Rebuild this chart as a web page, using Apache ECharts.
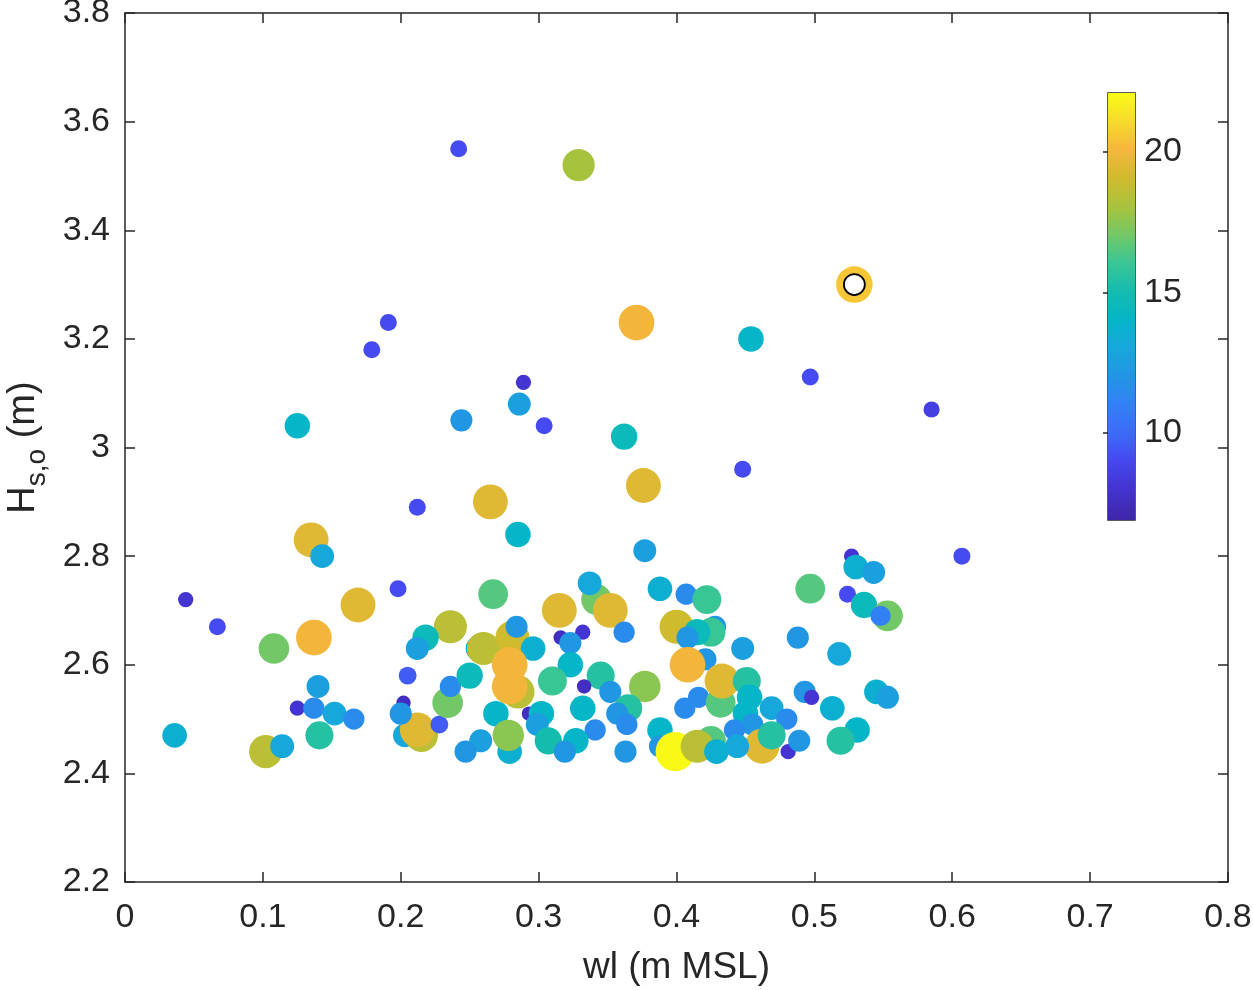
<!DOCTYPE html>
<html>
<head>
<meta charset="utf-8">
<script src="https://cdn.jsdelivr.net/npm/echarts@6/dist/echarts.min.js"></script>
<style>
html,body{margin:0;padding:0;background:#fff;}
#chart{width:1253px;height:990px;}
</style>
</head>
<body>
<div id="chart"></div>
<script>
// ---- data ----
const wl = [0.242,0.329,0.191,0.179,0.371,0.454,0.529,0.497,0.585,0.125,0.244,0.289,0.286,0.304,0.362,0.448,0.212,0.265,0.376,0.135,0.143,0.285,0.377,0.607,0.044,0.067,0.036,0.108,0.137,0.169,0.198,0.102,0.114,0.140,0.125,0.137,0.152,0.166,0.141,0.267,0.236,0.218,0.212,0.205,0.202,0.203,0.215,0.212,0.200,0.228,0.234,0.236,0.250,0.256,0.260,0.281,0.284,0.296,0.285,0.279,0.279,0.269,0.293,0.302,0.299,0.307,0.279,0.278,0.258,0.247,0.342,0.337,0.315,0.352,0.362,0.316,0.332,0.323,0.323,0.310,0.345,0.333,0.352,0.377,0.365,0.357,0.364,0.332,0.341,0.327,0.319,0.363,0.388,0.407,0.422,0.400,0.428,0.425,0.415,0.408,0.421,0.408,0.388,0.406,0.416,0.388,0.399,0.425,0.415,0.497,0.524,0.448,0.488,0.518,0.432,0.433,0.448,0.451,0.453,0.469,0.480,0.450,0.455,0.442,0.462,0.469,0.444,0.481,0.489,0.429,0.493,0.498,0.513,0.531,0.519,0.527,0.530,0.543,0.536,0.553,0.548,0.545,0.553];
const hs = [3.55,3.52,3.23,3.18,3.23,3.20,3.30,3.13,3.07,3.04,3.05,3.12,3.08,3.04,3.02,2.96,2.89,2.90,2.93,2.83,2.80,2.84,2.81,2.80,2.72,2.67,2.47,2.63,2.65,2.71,2.74,2.44,2.45,2.56,2.52,2.52,2.51,2.50,2.47,2.73,2.67,2.65,2.63,2.58,2.53,2.47,2.47,2.48,2.51,2.49,2.53,2.56,2.58,2.63,2.63,2.65,2.67,2.63,2.55,2.60,2.56,2.51,2.51,2.51,2.49,2.46,2.44,2.47,2.46,2.44,2.72,2.75,2.70,2.70,2.66,2.65,2.66,2.64,2.60,2.57,2.58,2.56,2.55,2.56,2.52,2.51,2.49,2.52,2.48,2.46,2.44,2.44,2.74,2.73,2.72,2.67,2.67,2.66,2.66,2.65,2.61,2.60,2.48,2.52,2.54,2.45,2.44,2.46,2.45,2.74,2.73,2.63,2.65,2.62,2.53,2.57,2.58,2.57,2.54,2.52,2.50,2.51,2.49,2.48,2.45,2.47,2.45,2.44,2.46,2.44,2.55,2.54,2.52,2.48,2.46,2.80,2.78,2.77,2.71,2.69,2.69,2.55,2.54];
const period = [9,18,9,9,20,14,20.5,9,8.5,14,12,8,12.5,9,14.5,9,9,19.5,19.5,19.5,13,14,12.5,9,8,9,13.5,17,20,19.5,9,18.5,13,12.5,8,11.5,13,11.5,15.5,16.5,18.5,14.5,12.5,9.5,7.5,13,18.5,19.5,12,9.5,17,11.5,14.5,13.5,18.5,19,12,13.5,18.5,20,20,14,7.5,14,12.5,15,13.5,17.5,12.5,12,17,13,19.5,19.5,11.5,7.5,8,12,14,16,15.5,7.5,12,17.5,15.5,12,11.5,14,11.5,14,12,12,13.5,11.5,16,19,12,16,14.5,12,12,20,14,11.5,11.5,12,22,16.5,18.5,16.5,9,12.5,12,13,16.5,19.5,7.5,15.5,14,13,11.5,14,12,11.5,19.5,15.5,13,8,12,13.5,12,8,13.5,14,15.5,8,13.5,12.5,14.5,17,11,13.5,12.5];

const highlightWl = [0.529];
const highlightHs = [3.30];

const xTicks = [0, 0.1, 0.2, 0.3, 0.4, 0.5, 0.6, 0.7, 0.8];
const yTicks = [2.2, 2.4, 2.6, 2.8, 3, 3.2, 3.4, 3.6, 3.8];
const cbTicks = [10, 15, 20];
const cbMin = 6.9, cbMax = 22.1;

const parula = ['#3e26a8','#4433d0','#4648ef','#3b6cf8','#3380f5','#2196e4','#16a8da','#05b5c8','#14bcae','#3ac695','#74c865','#a9c33c','#d0bb2d','#f6b63c','#f7db2b','#f9fb15'];
const parulaPos = [0, 0.073, 0.139, 0.205, 0.272, 0.338, 0.404, 0.470, 0.536, 0.603, 0.669, 0.735, 0.801, 0.868, 0.934, 1];

// ---- build ----
const pts = wl.map((x, i) => [x, hs[i], period[i]]);
const hl = highlightWl.map((x, i) => [x, highlightHs[i]]);
const txt = '#262626';
const font = 'Liberation Sans, Arial, Helvetica, sans-serif';

const chart = echarts.init(document.getElementById('chart'), null, {renderer: 'canvas'});

function fmt(v) { return String(Math.round(v * 1000) / 1000); }

const axisCommon = {
  type: 'value',
  axisLine: {show: true, onZero: false, lineStyle: {color: txt, width: 1.5}},
  axisTick: {show: true, inside: true, length: 10, lineStyle: {color: txt, width: 1.5}},
  splitLine: {show: false}
};

chart.setOption({
  animation: false,
  backgroundColor: '#ffffff',
  grid: [
    {left: 125, right: 25, top: 13, bottom: 108, show: false, containLabel: false, outerBoundsMode: 'none'},
    {left: 1108, top: 93, width: 27, height: 427, show: true, borderColor: txt, borderWidth: 1.5, backgroundColor: 'transparent', containLabel: false, outerBoundsMode: 'none'}
  ],
  xAxis: [
    Object.assign({}, axisCommon, {
      gridIndex: 0, position: 'bottom', min: xTicks[0], max: xTicks[xTicks.length - 1], interval: 0.1,
      axisLabel: {color: txt, fontSize: 34, fontFamily: font, margin: 19, formatter: fmt},
      name: 'wl (m MSL)', nameLocation: 'middle', nameGap: 67,
      nameTextStyle: {color: txt, fontSize: 37, fontFamily: font}
    }),
    Object.assign({}, axisCommon, {
      gridIndex: 0, position: 'top', min: xTicks[0], max: xTicks[xTicks.length - 1], interval: 0.1,
      axisLabel: {show: false}
    }),
    {gridIndex: 1, type: 'value', min: 0, max: 1, show: false}
  ],
  yAxis: [
    Object.assign({}, axisCommon, {
      gridIndex: 0, position: 'left', min: yTicks[0], max: yTicks[yTicks.length - 1], interval: 0.2,
      axisLabel: {color: txt, fontSize: 34, fontFamily: font, margin: 15, formatter: fmt},
      name: '{a|H}{b|s,o}{a| (m)}', nameLocation: 'middle', nameGap: 74, nameRotate: 90,
      nameTextStyle: {
        color: txt, fontFamily: font,
        rich: {
          a: {fontSize: 38, color: txt, fontFamily: font},
          b: {fontSize: 28, color: txt, fontFamily: font, padding: [26, 0, 0, 0]}
        }
      }
    }),
    Object.assign({}, axisCommon, {
      gridIndex: 0, position: 'right', min: yTicks[0], max: yTicks[yTicks.length - 1], interval: 0.2,
      axisLabel: {show: false}
    }),
    {
      gridIndex: 1, type: 'value', position: 'right', min: cbMin, max: cbMax,
      axisLine: {show: false},
      axisTick: {show: true, inside: true, length: 5, customValues: cbTicks, lineStyle: {color: txt, width: 1.5}},
      axisLabel: {show: true, customValues: cbTicks, color: txt, fontSize: 34, fontFamily: font, margin: 9},
      splitLine: {show: false}
    }
  ],
  visualMap: {
    type: 'continuous', show: false, min: cbMin, max: cbMax, dimension: 2, seriesIndex: 0,
    inRange: {color: parula, symbolSize: [1.7 * cbMin + 1.7, 1.7 * cbMax + 1.7]}
  },
  series: [
    {
      type: 'scatter', xAxisIndex: 0, yAxisIndex: 0, data: pts,
      symbol: 'circle', itemStyle: {opacity: 1, borderWidth: 0},
      emphasis: {disabled: true}, z: 3
    },
    {
      type: 'scatter', xAxisIndex: 0, yAxisIndex: 0, data: hl,
      symbol: 'circle', symbolSize: 21,
      itemStyle: {color: '#ffffff', borderColor: '#000000', borderWidth: 1.8, opacity: 1},
      emphasis: {disabled: true}, z: 4
    },
    {
      type: 'custom', xAxisIndex: 2, yAxisIndex: 2, data: [[0, cbMin, cbMax]],
      renderItem: function (params, api) {
        const top = api.coord([0, api.value(2)]);
        const bot = api.coord([0, api.value(1)]);
        const cs = params.coordSys;
        const stops = parula.map((c, i) => ({offset: parulaPos[i], color: c}));
        return {
          type: 'rect',
          shape: {x: cs.x, y: top[1], width: cs.width, height: bot[1] - top[1]},
          style: {fill: new echarts.graphic.LinearGradient(0, 1, 0, 0, stops)}
        };
      },
      silent: true, z: 1
    }
  ]
});
</script>
</body>
</html>
